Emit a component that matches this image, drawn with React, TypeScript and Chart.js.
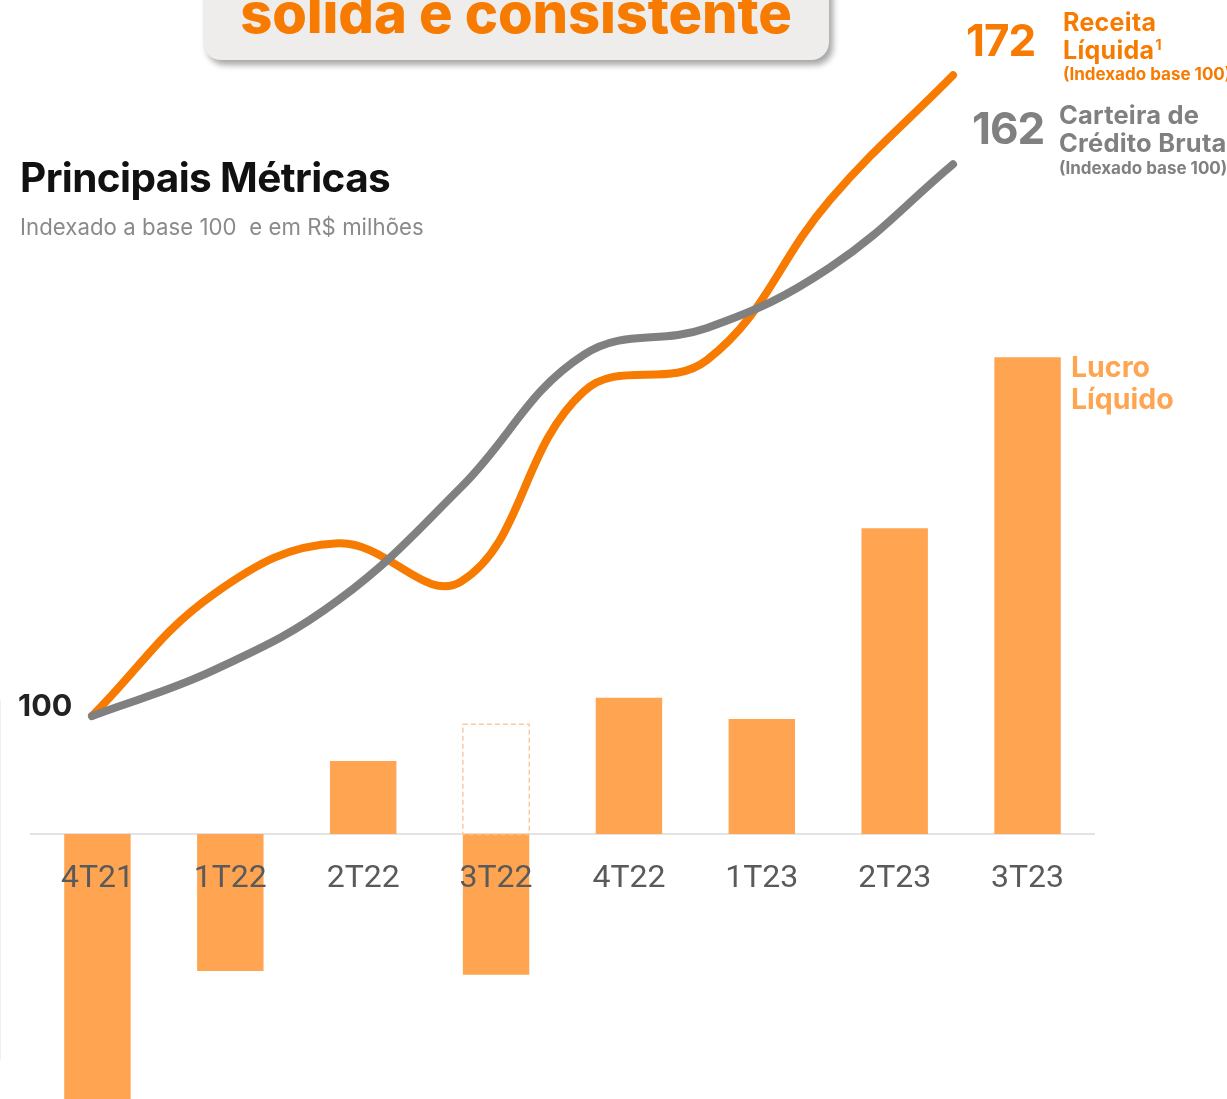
import React, { useEffect, useRef } from 'react';
import { Chart, registerables } from 'chart.js';

Chart.register(...registerables);

const quarters = ['4T21', '1T22', '2T22', '3T22', '4T22', '1T23', '2T23', '3T23'];
// Lucro Líquido (R$ milhões)
const lucroLiquido = [-41, -18.6, 9.9, -19.1, 18.5, 15.6, 41.5, 64.7];
// Lucro ajustado (contorno tracejado)
const lucroAjustado: (number | null)[] = [null, null, null, 14.9, null, null, null, null];
// Indexado base 100
const receitaLiquida = [100, 113.8, 119.4, 115.1, 136.5, 140, 158, 172];
const carteiraCredito = [100, 105.2, 113, 125.7, 140.6, 143.6, 150.4, 162];

const ORANGE = '#f77b00';
const GRAY = '#808080';
const BAR = '#ffa552';

const dashedBarPlugin = {
  id: 'dashedBar',
  afterDatasetsDraw(chart: any) {
    const meta = chart.getDatasetMeta(1);
    const ctx = chart.ctx;
    ctx.save();
    ctx.setLineDash([5, 3]);
    ctx.lineWidth = 1.5;
    ctx.strokeStyle = '#f9cba4';
    meta.data.forEach((el: any, i: number) => {
      if (lucroAjustado[i] == null) return;
      const { x, y, base, width } = el.getProps(['x', 'y', 'base', 'width'], true);
      ctx.strokeRect(x - width / 2, y, width, base - y);
    });
    ctx.restore();
  },
};

export default function App() {
  const ref = useRef<HTMLCanvasElement>(null);
  useEffect(() => {
    document.body.style.margin = '0';
    document.body.style.overflow = 'hidden';
    const chart = new Chart(ref.current!, {
      type: 'bar',
      data: {
        labels: quarters,
        datasets: [
          {
            type: 'bar',
            label: 'Lucro Líquido',
            data: lucroLiquido,
            backgroundColor: BAR,
            borderWidth: 0,
            grouped: false,
            order: 2,
            yAxisID: 'y',
            xAxisID: 'x',
          } as any,
          {
            type: 'bar',
            label: 'Lucro Ajustado',
            data: lucroAjustado,
            backgroundColor: 'rgba(0,0,0,0)',
            borderWidth: 0,
            grouped: false,
            order: 3,
            yAxisID: 'y',
            xAxisID: 'x',
          } as any,
          {
            type: 'line',
            label: 'Receita Líquida',
            data: receitaLiquida.map((v, i) => ({ x: i, y: v })),
            borderColor: ORANGE,
            borderWidth: 8,
            borderCapStyle: 'round',
            pointRadius: 0,
            tension: 0.4,
            order: 1,
            yAxisID: 'yLine',
            xAxisID: 'xLine',
          } as any,
          {
            type: 'line',
            label: 'Carteira de Crédito Bruta',
            data: carteiraCredito.map((v, i) => ({ x: i, y: v })),
            borderColor: GRAY,
            borderWidth: 8,
            borderCapStyle: 'round',
            pointRadius: 0,
            tension: 0.4,
            order: 0,
            yAxisID: 'yLine',
            xAxisID: 'xLine',
          } as any,
        ],
      },
      options: {
        animation: false,
        responsive: false,
        maintainAspectRatio: false,
        layout: { padding: { left: 31, right: 133, top: 0, bottom: 0 } },
        plugins: { legend: { display: false }, tooltip: { enabled: false } },
        datasets: { bar: { categoryPercentage: 1, barPercentage: 0.5 } },
        scales: {
          x: {
            type: 'category',
            position: { y: 0 } as any,
            grid: { display: false, drawTicks: false },
            border: { display: true, color: '#e3e3e3', width: 2 },
            ticks: {
              z: 1,
              color: '#5a5a5a',
              padding: 26,
              maxRotation: 0,
              font: { family: 'Roboto', size: 32, weight: 'normal' },
            },
          },
          y: {
            display: false,
            min: -35.96,
            max: 113.2,
          },
          xLine: {
            type: 'linear',
            display: false,
            offset: false,
            bounds: 'data',
            min: -0.496,
            max: 8.146,
          },
          yLine: {
            display: false,
            beginAtZero: false,
            min: 56.97,
            max: 180.45,
          },
        },
      } as any,
      plugins: [dashedBarPlugin],
    });
    return () => chart.destroy();
  }, []);

  const abs = (s: React.CSSProperties): React.CSSProperties => ({
    position: 'absolute',
    margin: 0,
    whiteSpace: 'nowrap',
    fontFamily: 'Inter, sans-serif',
    lineHeight: 1,
    ...s,
  });

  return (
    <div style={{ position: 'relative', width: 1227, height: 1099, overflow: 'hidden', background: '#fff' }}>
      <canvas ref={ref} width={1227} height={1099} style={{ position: 'absolute', left: 0, top: 0 }} />
      <div style={{ position: 'absolute', left: 0, top: 700, width: 1, height: 360, background: '#f0f0f0' }} />
      {/* header box */}
      <div
        style={{
          position: 'absolute',
          left: 203,
          top: -40,
          width: 626,
          height: 100,
          background: '#eeedeb',
          borderRadius: 18,
          boxShadow: '4px 5px 6px rgba(0,0,0,0.35)',
        }}
      />
      <div style={abs({ left: 203, width: 626, textAlign: 'center', top: -15, fontSize: 56, fontWeight: 800, color: ORANGE, letterSpacing: -0.1 })}>
        sólida e consistente
      </div>
      <div style={abs({ left: 20, top: 158, fontSize: 40.5, fontWeight: 700, color: '#111', letterSpacing: -0.6 })}>
        Principais Métricas
      </div>
      <div style={abs({ left: 20, top: 216, fontSize: 22.2, fontWeight: 400, color: '#8a8a8a', letterSpacing: 0.05 })}>
        Indexado a base 100&nbsp; e em R$ milhões
      </div>
      <div style={abs({ left: 18, top: 690, fontSize: 30.5, fontWeight: 700, color: '#222' })}>100</div>

      <div style={abs({ left: 966, top: 18, fontSize: 44, fontWeight: 700, color: ORANGE, letterSpacing: -1 })}>172</div>
      <div style={abs({ left: 1063, top: 8, fontSize: 25, fontWeight: 700, color: ORANGE, lineHeight: '28px', letterSpacing: 0.3 })}>
        Receita<br />Líquida<span style={{ fontSize: 14, position: 'relative', top: -9, marginLeft: 1 }}>1</span>
      </div>
      <div style={abs({ left: 1063, top: 66, fontSize: 17, fontWeight: 700, color: ORANGE })}>(Indexado base 100)</div>

      <div style={abs({ left: 972, top: 106, fontSize: 44, fontWeight: 700, color: GRAY, letterSpacing: -1 })}>162</div>
      <div style={abs({ left: 1059, top: 101, fontSize: 25.5, fontWeight: 700, color: GRAY, lineHeight: '28px', letterSpacing: 0.2 })}>
        Carteira de<br />Crédito Bruta
      </div>
      <div style={abs({ left: 1059, top: 160, fontSize: 17, fontWeight: 700, color: GRAY })}>(Indexado base 100)</div>

      <div style={abs({ left: 1071, top: 351, fontSize: 28.5, fontWeight: 700, color: BAR, lineHeight: '32px' })}>
        Lucro<br />Líquido
      </div>
    </div>
  );
}
